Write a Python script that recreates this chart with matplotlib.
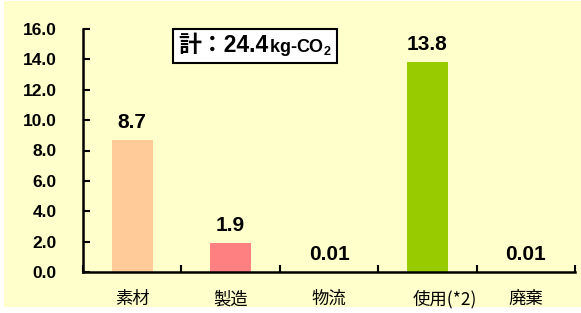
import matplotlib
matplotlib.use("Agg")
import matplotlib.pyplot as plt
from matplotlib.patches import Rectangle
from matplotlib.offsetbox import TextArea, HPacker, AnchoredOffsetbox
import matplotlib.transforms as mtransforms

plt.rcParams["mathtext.fontset"] = "custom"
plt.rcParams["mathtext.bf"] = "Liberation Sans:bold"
plt.rcParams["mathtext.rm"] = "Liberation Sans:bold"

categories = ["素材", "製造", "物流", "使用(*2)", "廃棄"]
values = [8.7, 1.9, 0.01, 13.8, 0.01]
value_labels = ["8.7", "1.9", "0.01", "13.8", "0.01"]
colors = ["#FFCC99", "#FF8080", "#FFCC99", "#99CC00", "#FFCC99"]
yticks = [0, 2, 4, 6, 8, 10, 12, 14, 16]
ytick_labels = ["0.0", "2.0", "4.0", "6.0", "8.0", "10.0", "12.0", "14.0", "16.0"]
total_label = "24.4"

W, H = 581, 313
fig = plt.figure(figsize=(W / 100, H / 100), dpi=100, facecolor="white")
# yellow background panel
bg = Rectangle((4 / W, 6 / H), 1 - 4 / W, 1 - 7 / H,
               transform=fig.transFigure, facecolor="#FFFFCC",
               edgecolor="none", zorder=-10)
fig.add_artist(bg)

ax = fig.add_axes([83 / W, 41 / H, 492 / W, 243 / H])
ax.set_facecolor("none")
ax.set_zorder(1)
num_font = dict(family=["Liberation Sans", "DejaVu Sans"], weight="bold")
jp_font = ["Noto Sans CJK JP", "DejaVu Sans"]

x = list(range(len(categories)))
ax.bar(x, values, width=0.42, color=colors, zorder=2)
ax.set_xlim(-0.5, len(categories) - 0.5)
ax.set_ylim(0, 16)

for xi, v, lab in zip(x, values, value_labels):
    ax.annotate(lab, (xi, v), xytext=(0, 6), textcoords="offset points",
                ha="center", va="bottom", fontsize=15, **num_font)

for s in ["top", "right"]:
    ax.spines[s].set_visible(False)
for s in ["left", "bottom"]:
    ax.spines[s].set_linewidth(1.8)
    ax.spines[s].set_color("black")

ax.set_yticks(yticks)
ax.set_yticklabels(ytick_labels, fontsize=12.5, **num_font)
ax.tick_params(axis="y", direction="in", length=5, width=1.5, pad=19)

ax.set_xticks(x)
ax.set_xticklabels(categories, fontsize=12.5, family=jp_font)
ax.tick_params(axis="x", which="major", length=0, pad=13)
ax.set_xticks([i - 0.5 for i in range(len(categories) + 1)], minor=True)
ax.tick_params(axis="x", which="minor", direction="in", length=5, width=1.5)

# shift the 使用(*2) label to the right like the reference
lbl = ax.get_xticklabels()[3]
lbl.set_transform(lbl.get_transform() + mtransforms.ScaledTranslation(17 / 100, 0, fig.dpi_scale_trans))

# total box
t1 = TextArea("計：" + total_label, textprops=dict(fontsize=16.5, weight="bold",
              family=["Liberation Sans", "Noto Sans CJK JP"]))
t2 = TextArea(r"kg-CO$_\mathbf{2}$", textprops=dict(fontsize=13, weight="bold",
              family=["Liberation Sans"]))
pack = HPacker(children=[t1, t2], align="baseline", pad=0, sep=1)
ab = AnchoredOffsetbox(loc="center", child=pack, pad=0.35, frameon=True,
                       bbox_to_anchor=(255 / W, 1 - 46 / H), bbox_transform=fig.transFigure,
                       borderpad=0)
ab.patch.set_edgecolor("black")
ab.patch.set_linewidth(1.5)
ab.patch.set_facecolor("white")
ab.patch.set_boxstyle("square", pad=0)
ab.set_zorder(5)
fig.add_artist(ab)

fig.savefig("out.png", dpi=100, facecolor="white")
